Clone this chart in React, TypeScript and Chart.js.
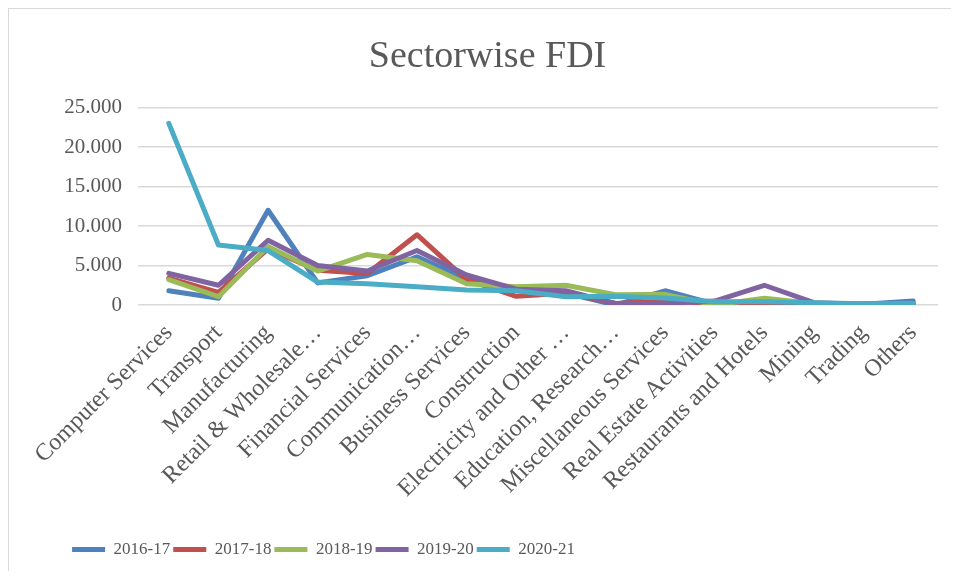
import React, { useEffect, useRef } from "react";
import { Chart, registerables } from "chart.js";

Chart.register(...registerables);

const categories = [
  "Computer Services",
  "Transport",
  "Manufacturing",
  "Retail & Wholesale…",
  "Financial Services",
  "Communication…",
  "Business Services",
  "Construction",
  "Electricity and Other …",
  "Education, Research…",
  "Miscellaneous Services",
  "Real Estate Activities",
  "Restaurants and Hotels",
  "Mining",
  "Trading",
  "Others",
];

const seriesNames = ["2016-17", "2017-18", "2018-19", "2019-20", "2020-21"];
const seriesColors = ["#4F81BD", "#C0504D", "#9BBB59", "#8064A2", "#4BACC6"];

const fdi2016 = [1.8, 0.85, 12.0, 2.8, 3.7, 6.1, 3.3, 1.9, 1.5, 0.0, 1.8, 0.1, 0.3, 0.2, 0.1, 0.5];
const fdi2017 = [3.4, 1.6, 7.1, 4.4, 4.0, 8.9, 3.2, 1.1, 1.5, 0.2, 0.5, 0.2, 0.3, 0.2, 0.1, 0.2];
const fdi2018 = [3.2, 1.05, 7.4, 4.3, 6.4, 5.6, 2.7, 2.3, 2.5, 1.3, 1.35, 0.0, 0.85, 0.2, 0.1, 0.2];
const fdi2019 = [4.0, 2.5, 8.2, 5.0, 4.3, 6.9, 3.8, 2.0, 1.8, 0.2, 0.2, 0.5, 2.5, 0.3, 0.1, 0.2];
const fdi2020 = [23.0, 7.6, 6.9, 2.9, 2.7, 2.3, 1.9, 1.8, 1.05, 1.1, 0.9, 0.4, 0.4, 0.3, 0.15, 0.2];

const seriesValues = [fdi2016, fdi2017, fdi2018, fdi2019, fdi2020];

const yTicks = [0, 5, 10, 15, 20, 25];

const shiftBlocks = {
  id: "shiftBlocks",
  afterLayout(chart: any) {
    const t = chart.titleBlock;
    if (t) {
      t.left = 0;
      t.right = 957;
    }
    const l = chart.legend;
    if (l) {
      l.left = 0;
      l.right = 629;
    }
  },
};

export default function App() {
  const canvasRef = useRef<HTMLCanvasElement | null>(null);

  useEffect(() => {
    if (!canvasRef.current) return;
    const chart = new Chart(canvasRef.current, {
      type: "line",
      data: {
        labels: categories,
        datasets: seriesNames.map((name, i) => ({
          label: name,
          data: seriesValues[i],
          borderColor: seriesColors[i],
          backgroundColor: seriesColors[i],
          borderWidth: 5,
          pointRadius: 0,
          tension: 0,
          borderCapStyle: "round" as const,
          borderJoinStyle: "round" as const,
          order: seriesNames.length - i,
        })),
      },
      plugins: [shiftBlocks],
      options: {
        animation: false,
        responsive: false,
        maintainAspectRatio: false,
        layout: { padding: { left: 0, right: 13, top: 0, bottom: 3 } },
        plugins: {
          title: {
            display: true,
            text: "Sectorwise FDI",
            color: "#595959",
            font: { family: "'Liberation Serif', serif", size: 38, weight: "normal" },
            padding: { top: 25, bottom: 28 },
          },
          legend: {
            position: "bottom",
            labels: {
              sort: (a: any, b: any) => a.datasetIndex - b.datasetIndex,
              boxWidth: 33,
              boxHeight: 5,
              padding: 3,
              color: "#595959",
              font: { family: "'Liberation Serif', serif", size: 17 },
              generateLabels: (ch: any) =>
                ch.data.datasets.map((ds: any, i: number) => ({
                  text: ds.label,
                  fillStyle: ds.borderColor,
                  strokeStyle: ds.borderColor,
                  lineWidth: 0,
                  hidden: false,
                  datasetIndex: i,
                  fontColor: "#595959",
                })),
            },
          },
          tooltip: { enabled: false },
        },
        scales: {
          x: {
            offset: true,
            grid: { display: false },
            border: { display: false },
            ticks: {
              autoSkip: false,
              minRotation: 45,
              maxRotation: 45,
              color: "#595959",
              padding: 6,
              font: { family: "'Liberation Serif', serif", size: 24 },
            },
            afterFit: (scale: any) => {
              scale.height = 233;
            },
          },
          y: {
            min: 0,
            max: 25,
            afterBuildTicks: (scale: any) => {
              scale.ticks = yTicks.map((v) => ({ value: v }));
            },
            grid: { color: "#d9d9d9", lineWidth: 1.5, tickLength: 6 },
            border: { display: false },
            ticks: {
              color: "#595959",
              padding: 16,
              font: { family: "'Liberation Serif', serif", size: 21 },
              callback: (v: any) => (Number(v) === 0 ? "0" : Number(v).toFixed(3)),
            },
            afterFit: (scale: any) => {
              scale.width = 135;
            },
          },
        },
      },
    });
    return () => chart.destroy();
  }, []);

  return (
    <div
      style={{
        width: 942,
        height: 562,
        borderLeft: "1.5px solid #d9d9d9",
        borderTop: "1.5px solid #d9d9d9",
        background: "#fff",
      }}
    >
      <canvas ref={canvasRef} width={942} height={562} style={{ display: "block" }} />
    </div>
  );
}
